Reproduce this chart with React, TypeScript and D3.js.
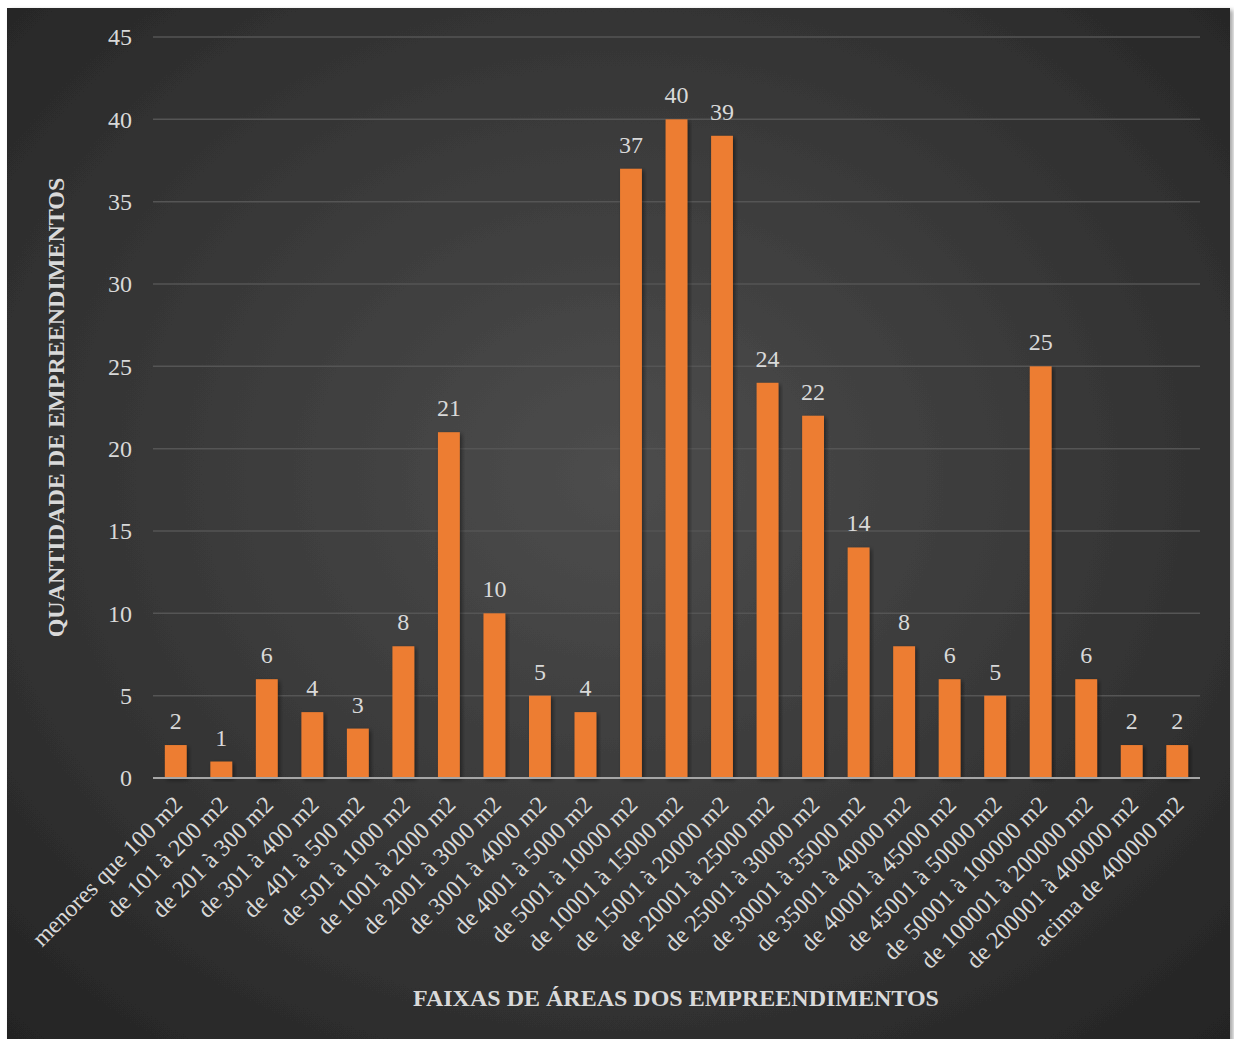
import React from 'react';
import * as d3 from 'd3';

const categories = [
  'menores que 100 m2',
  'de 101 à 200 m2',
  'de 201 à 300 m2',
  'de 301 à 400 m2',
  'de 401 à 500 m2',
  'de 501 à 1000 m2',
  'de 1001 à 2000 m2',
  'de 2001 à 3000 m2',
  'de 3001 à 4000 m2',
  'de 4001 à 5000 m2',
  'de 5001 à 10000 m2',
  'de 10001 à 15000 m2',
  'de 15001 à 20000 m2',
  'de 20001 à 25000 m2',
  'de 25001 à 30000 m2',
  'de 30001 à 35000 m2',
  'de 35001 à 40000 m2',
  'de 40001 à 45000 m2',
  'de 45001 à 50000 m2',
  'de 50001 à 100000 m2',
  'de 100001 à 200000 m2',
  'de 200001 à 400000 m2',
  'acima de 400000 m2',
];

const counts = [2, 1, 6, 4, 3, 8, 21, 10, 5, 4, 37, 40, 39, 24, 22, 14, 8, 6, 5, 25, 6, 2, 2];

const yTicks = [0, 5, 10, 15, 20, 25, 30, 35, 40, 45];

const W = 1234;
const H = 1039;
const plot = { left: 153, right: 1200, top: 37, bottom: 778 };
const font = '"Liberation Serif", "DejaVu Serif", serif';
const textColor = '#d9d9d9';

export default function App() {
  const x = d3.scaleBand<string>()
    .domain(categories)
    .range([plot.left, plot.right])
    .paddingInner(0.52)
    .paddingOuter(0.26);

  const y = d3.scaleLinear().domain([0, 45]).range([plot.bottom, plot.top]);

  return (
    <svg width={W} height={H} style={{ position: 'absolute', left: 0, top: 0 }}>
      <defs>
        <radialGradient id="bg" cx="0.5" cy="0.45" r="0.75">
          <stop offset="0" stopColor="#4d4d4d" />
          <stop offset="1" stopColor="#232323" />
        </radialGradient>
        <filter id="shadow" x="-20%" y="-20%" width="140%" height="140%">
          <feDropShadow dx="2" dy="2" stdDeviation="2" floodColor="#000" floodOpacity="0.45" />
        </filter>
        <filter id="panelShadow" x="-5%" y="-5%" width="110%" height="110%">
          <feDropShadow dx="3" dy="2" stdDeviation="2" floodColor="#000" floodOpacity="0.35" />
        </filter>
      </defs>
      <rect x={0} y={0} width={W} height={H} fill="#fff" />
      <rect x={7} y={8} width={1223} height={1040} fill="url(#bg)" filter="url(#panelShadow)" />

      {/* gridlines */}
      {yTicks.filter(t => t > 0).map(t => (
        <line key={t} x1={plot.left} x2={plot.right} y1={y(t)} y2={y(t)}
          stroke="#555555" strokeWidth={1.5} />
      ))}

      {/* y tick labels */}
      {yTicks.map(t => (
        <text key={t} x={132} y={y(t)} dy="0.35em" textAnchor="end"
          fontFamily={font} fontSize={24} fill={textColor}>{t}</text>
      ))}

      {/* bars */}
      {categories.map((c, i) => (
        <rect key={c} x={x(c)} y={y(counts[i])} width={x.bandwidth()}
          height={y(0) - y(counts[i])} fill="#ed7d31" filter="url(#shadow)" />
      ))}

      {/* baseline */}
      <line x1={plot.left} x2={plot.right} y1={y(0)} y2={y(0)} stroke="#a6a6a6" strokeWidth={2} />

      {/* value labels */}
      {categories.map((c, i) => (
        <text key={c} x={(x(c) ?? 0) + x.bandwidth() / 2} y={y(counts[i]) - 16}
          textAnchor="middle" fontFamily={font} fontSize={24} fill={textColor}>
          {counts[i]}
        </text>
      ))}

      {/* category labels */}
      {categories.map(c => {
        const cx = (x(c) ?? 0) + x.bandwidth() / 2 + 8;
        const cy = 806;
        return (
          <text key={c} transform={`translate(${cx},${cy}) rotate(-45)`} textAnchor="end"
            fontFamily={font} fontSize={24} fill={textColor}>{c}</text>
        );
      })}

      {/* axis titles */}
      <text transform={`translate(64,${(plot.top + plot.bottom) / 2}) rotate(-90)`} textAnchor="middle"
        fontFamily={font} fontSize={24} fontWeight="bold" fill={textColor}>
        QUANTIDADE DE EMPREENDIMENTOS
      </text>
      <text x={676} y={1006} textAnchor="middle" fontFamily={font} fontSize={24}
        fontWeight="bold" fill={textColor}>
        FAIXAS DE ÁREAS DOS EMPREENDIMENTOS
      </text>
    </svg>
  );
}
